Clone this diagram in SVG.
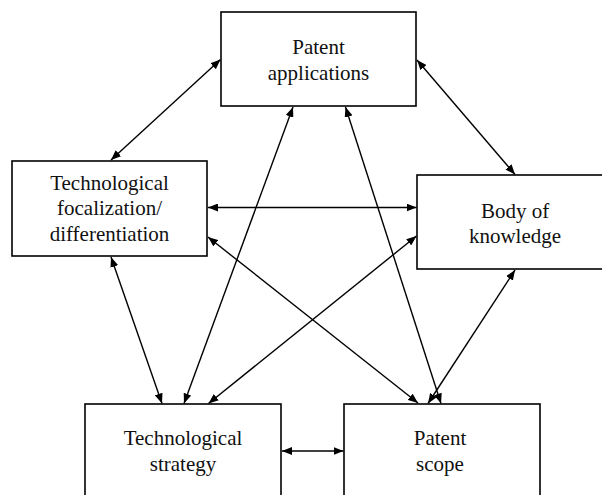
<svg xmlns="http://www.w3.org/2000/svg" width="602" height="495" viewBox="0 0 602 495">
<style>
.box{fill:#fff;stroke:#000;stroke-width:1.6}
.lbl{font-family:"Liberation Serif","Times New Roman",serif;font-size:21px;fill:#111;text-anchor:middle}
.con{stroke:#000;stroke-width:1.4;fill:none;marker-start:url(#ah);marker-end:url(#ah)}
</style>
<defs>
<marker id="ah" viewBox="0 0 10 8" refX="10" refY="4" markerWidth="10" markerHeight="8" markerUnits="userSpaceOnUse" orient="auto-start-reverse">
<path d="M0,0 L10,4 L0,8 Z" fill="#000"/>
</marker>
</defs>
<rect width="602" height="495" fill="#fff"/>
<g id="n-patent-applications">
<rect class="box" x="221" y="12" width="195" height="94"/>
<text class="lbl" x="318.5" y="54">Patent</text>
<text class="lbl" x="318.5" y="80">applications</text>
</g>
<g id="n-tech-focalization">
<rect class="box" x="12" y="161" width="195" height="95"/>
<text class="lbl" x="109.5" y="190">Technological</text>
<text class="lbl" x="109.5" y="215">focalization/</text>
<text class="lbl" x="109.5" y="241">differentiation</text>
</g>
<g id="n-body-of-knowledge">
<rect class="box" x="417" y="175" width="196" height="94"/>
<text class="lbl" x="515" y="218">Body of</text>
<text class="lbl" x="515" y="243">knowledge</text>
</g>
<g id="n-tech-strategy">
<rect class="box" x="85" y="404" width="196" height="100"/>
<text class="lbl" x="183" y="445">Technological</text>
<text class="lbl" x="183" y="471">strategy</text>
</g>
<g id="n-patent-scope">
<rect class="box" x="344" y="404" width="196" height="100"/>
<text class="lbl" x="440" y="445">Patent</text>
<text class="lbl" x="440" y="471">scope</text>
</g>
<g id="connectors">
<line class="con" x1="220.5" y1="59.5" x2="111" y2="160"/>
<line class="con" x1="417" y1="60" x2="515" y2="174.5"/>
<line class="con" x1="208" y1="207.5" x2="416.5" y2="207.5"/>
<line class="con" x1="208" y1="237" x2="418" y2="403"/>
<line class="con" x1="416.5" y1="236" x2="208.5" y2="403.5"/>
<line class="con" x1="293" y1="107" x2="184" y2="403.5"/>
<line class="con" x1="345.5" y1="107" x2="441" y2="403.5"/>
<line class="con" x1="111" y1="257" x2="162" y2="403.5"/>
<line class="con" x1="515" y1="270" x2="428" y2="403.5"/>
<line class="con" x1="282" y1="451" x2="343.5" y2="451"/>
</g>
</svg>
